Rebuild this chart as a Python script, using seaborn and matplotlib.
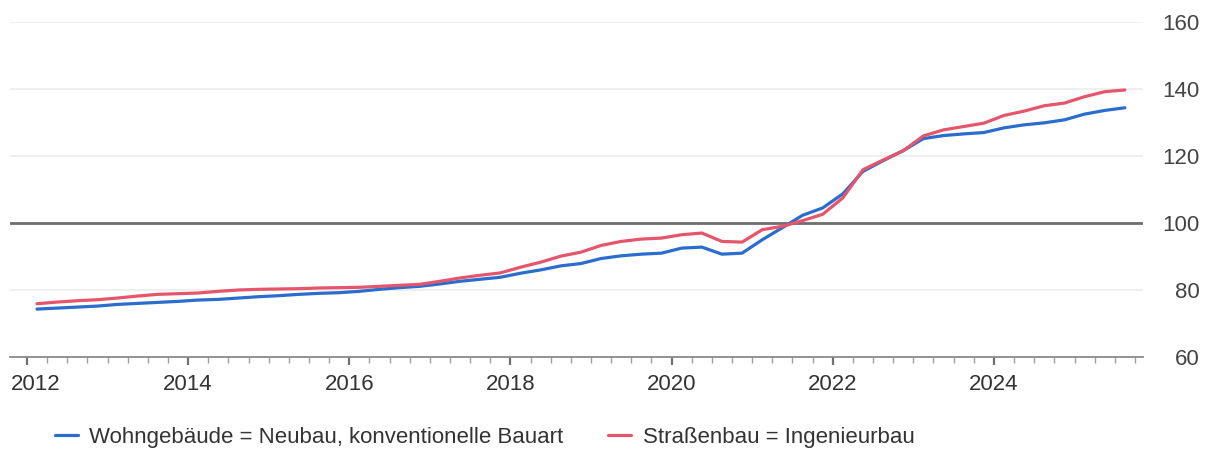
import numpy as np
import pandas as pd
import seaborn as sns
import matplotlib.pyplot as plt
from matplotlib.ticker import MultipleLocator
from matplotlib.transforms import ScaledTranslation

# quarterly index values, Q1 2012 .. Q3 2025 (plotted at mid-quarter)
quarters = [2012.125 + 0.25 * k for k in range(55)]
wohngebaeude = [
    74.3, 74.6, 74.9, 75.2, 75.7, 76.0, 76.3, 76.6, 77.0, 77.2,
    77.6, 78.0, 78.3, 78.7, 79.0, 79.2, 79.6, 80.2, 80.7, 81.1,
    81.8, 82.6, 83.2, 83.8, 85.0, 86.0, 87.2, 87.9, 89.4, 90.2,
    90.7, 91.0, 92.5, 92.8, 90.7, 91.0, 95.0, 98.6, 102.3, 104.5,
    108.7, 115.4, 118.6, 121.6, 125.2, 126.1, 126.6, 127.0, 128.4, 129.3,
    129.9, 130.8, 132.5, 133.6, 134.4,
]
strassenbau = [
    75.9, 76.4, 76.8, 77.1, 77.6, 78.2, 78.7, 78.9, 79.1, 79.6,
    80.0, 80.2, 80.3, 80.4, 80.6, 80.7, 80.8, 81.1, 81.4, 81.7,
    82.6, 83.6, 84.4, 85.1, 86.8, 88.3, 90.1, 91.3, 93.3, 94.5,
    95.2, 95.5, 96.5, 97.0, 94.5, 94.3, 98.0, 99.0, 100.7, 102.6,
    107.5, 115.9, 118.8, 121.6, 126.0, 127.8, 128.8, 129.8, 132.1, 133.4,
    135.0, 135.8, 137.7, 139.2, 139.7,
]
series_names = ["Wohngebäude = Neubau, konventionelle Bauart", "Straßenbau = Ingenieurbau"]
year_ticks = [2012, 2014, 2016, 2018, 2020, 2022, 2024]
y_ticks = [60, 80, 100, 120, 140, 160]

df = pd.DataFrame({
    "t": quarters * 2,
    "wert": wohngebaeude + strassenbau,
    "reihe": [series_names[0]] * len(quarters) + [series_names[1]] * len(quarters),
})

sns.set_style("white")
plt.rcParams["font.family"] = ["Liberation Sans", "DejaVu Sans"]

fig = plt.figure(figsize=(12.05, 4.5), dpi=100)
ax = fig.add_axes([10 / 1205, 1 - 357 / 450, 1133 / 1205, 335 / 450])

palette = {series_names[0]: "#2a6dcc", series_names[1]: "#e5566c"}
sns.lineplot(data=df, x="t", y="wert", hue="reihe", palette=palette,
             linewidth=2.3, ax=ax, legend=False)

for y in [80, 120, 140, 160]:
    ax.axhline(y, color="#ececec", linewidth=1.2, zorder=0)
ax.axhline(100, color="#6e6e6e", linewidth=2.0, zorder=1)

ax.set_xlim(2011.79, 2025.85)
ax.set_ylim(60, 160)
ax.set_xticks(year_ticks)
ax.set_xticklabels([str(y) for y in year_ticks])
ax.xaxis.set_minor_locator(MultipleLocator(0.25))
ax.set_yticks(y_ticks)
ax.set_xlabel("")
ax.set_ylabel("")

for side in ["top", "left", "right"]:
    ax.spines[side].set_visible(False)
ax.spines["bottom"].set_color("#8a8a8a")
ax.spines["bottom"].set_linewidth(1.3)

ax.tick_params(axis="x", which="major", bottom=True, length=6, width=1.6,
               color="#707070", labelsize=16, labelcolor="#333333", pad=6)
ax.tick_params(axis="x", which="minor", bottom=True, length=4, width=1.0,
               color="#a0a0a0")
ax.yaxis.tick_right()
ax.tick_params(axis="y", length=0, labelsize=16, labelcolor="#444444", pad=41)
for lab in ax.get_yticklabels():
    lab.set_horizontalalignment("right")
# first year label is nudged right so it stays inside the frame
first = ax.get_xticklabels()[0]
first.set_transform(first.get_transform() + ScaledTranslation(9 / 100, 0, fig.dpi_scale_trans))

handles = [plt.Line2D([], [], color=palette[n], linewidth=2.3) for n in series_names]
fig.legend(handles, series_names, loc="center left", bbox_to_anchor=(55 / 1205, 1 - 437 / 450),
           ncol=2, frameon=False, fontsize=16, handlelength=1.05, handletextpad=0.5,
           columnspacing=2.0, borderpad=0, borderaxespad=0, labelcolor="#333333")

fig.savefig("out.png", dpi=100)
